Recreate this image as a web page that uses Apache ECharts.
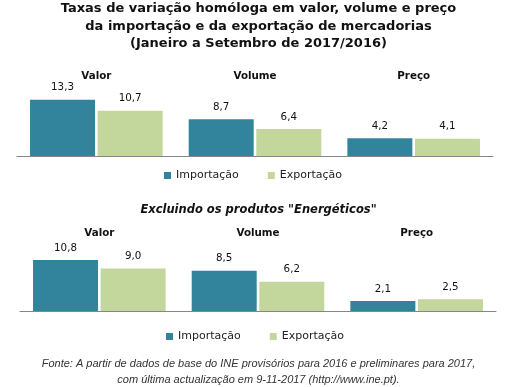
<!DOCTYPE html>
<html>
<head>
<meta charset="utf-8">
<script src="https://cdn.jsdelivr.net/npm/echarts@6/dist/echarts.min.js"></script>
<style>html,body{margin:0;padding:0;background:#fff}#c{width:517px;height:387px}</style>
</head>
<body>
<div id="c"></div>
<script>
const categories = ['Valor', 'Volume', 'Preço'];
const seriesNames = ['Importação', 'Exportação'];
const importTotal = [13.3, 8.7, 4.2];
const exportTotal = [10.7, 6.4, 4.1];
const importExcl = [10.8, 8.5, 2.1];
const exportExcl = [9.0, 6.2, 2.5];

const colImp = '#31849B';
const colExp = '#C3D69B';
const fmt = p => p.value.toFixed(1).replace('.', ',');
const labelStyle = { show: true, position: 'top', distance: 7, formatter: fmt,
  fontFamily: 'DejaVu Sans', fontSize: 10.3, color: '#111' };

function bar(name, data, color, idx) {
  return { type: 'bar', name: name, data: data, xAxisIndex: idx * 2, yAxisIndex: idx,
    barWidth: 65, barGap: '4%', itemStyle: { color: color }, label: labelStyle,
    emphasis: { disabled: true } };
}

const chart = echarts.init(document.getElementById('c'), null, { renderer: 'canvas' });
const xBottom = (g) => ({ type: 'category', gridIndex: g, data: categories, position: 'bottom',
  axisLine: { lineStyle: { color: '#868686', width: 1 } }, axisTick: { show: false }, axisLabel: { show: false } });
const xTop = (g, m) => ({ type: 'category', gridIndex: g, data: categories, position: 'top',
  axisLine: { show: false }, axisTick: { show: false },
  axisLabel: { margin: m, fontFamily: 'DejaVu Sans', fontWeight: 'bold', fontSize: 10.3, color: '#111' } });
const yAx = (g, max) => ({ type: 'value', gridIndex: g, min: 0, max: max, show: false, splitLine: { show: false } });

chart.setOption({
  animation: false,
  title: [
    { text: 'Taxas de variação homóloga em valor, volume e preço\nda importação e da exportação de mercadorias\n(Janeiro a Setembro de 2017/2016)',
      left: 'center', top: 0, padding: 0,
      textStyle: { fontFamily: 'DejaVu Sans', fontWeight: 'bold', fontSize: 13, lineHeight: 17.5, color: '#111' } },
    { text: 'Excluindo os produtos "Energéticos"', left: 'center', top: 204, padding: 0,
      textStyle: { fontFamily: 'DejaVu Sans', fontWeight: 'bold', fontStyle: 'italic', fontSize: 11.5, color: '#111' } },
    { text: 'Fonte: A partir de dados de base do INE provisórios para 2016 e preliminares para 2017,\ncom última actualização em 9-11-2017 (http://www.ine.pt).',
      left: 'center', top: 356, padding: 0,
      textStyle: { fontFamily: 'Liberation Sans', fontStyle: 'italic', fontWeight: 'normal', fontSize: 11, lineHeight: 16, color: '#333' } }
  ],
  legend: [
    { data: seriesNames, left: 164, top: 170, itemWidth: 7, itemHeight: 7, itemGap: 29, icon: 'rect', padding: 0,
      textStyle: { fontFamily: 'DejaVu Sans', fontSize: 11, color: '#222' } },
    { data: seriesNames, left: 166, top: 331, itemWidth: 7, itemHeight: 7, itemGap: 29, icon: 'rect', padding: 0,
      textStyle: { fontFamily: 'DejaVu Sans', fontSize: 11, color: '#222' } }
  ],
  grid: [
    { left: 17, right: 24, top: 84, height: 72 },
    { left: 20, right: 21, top: 240, height: 71 }
  ],
  xAxis: [xBottom(0), xTop(0, 3), xBottom(1), xTop(1, 2)],
  yAxis: [yAx(0, 17), yAx(1, 15)],
  series: [
    bar(seriesNames[0], importTotal, colImp, 0),
    bar(seriesNames[1], exportTotal, colExp, 0),
    bar(seriesNames[0], importExcl, colImp, 1),
    bar(seriesNames[1], exportExcl, colExp, 1)
  ]
});
</script>
</body>
</html>
